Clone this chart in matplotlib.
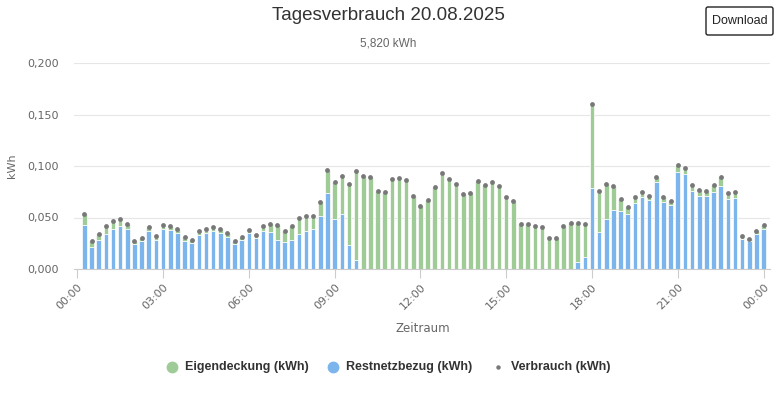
import matplotlib.pyplot as plt
from matplotlib.patches import FancyBboxPatch
import numpy as np

# Verbrauch je 15 Minuten (kWh), 00:15 ... 24:00
verbrauch = [0.053, 0.027, 0.034, 0.042, 0.047, 0.049, 0.044, 0.027, 0.030, 0.041, 0.032, 0.043,
             0.042, 0.039, 0.031, 0.028, 0.037, 0.039, 0.041, 0.039, 0.035, 0.027, 0.031, 0.038,
             0.033, 0.042, 0.044, 0.043, 0.037, 0.042, 0.050, 0.051, 0.051, 0.065, 0.096, 0.084,
             0.090, 0.083, 0.095, 0.090, 0.089, 0.076, 0.075, 0.087, 0.088, 0.086, 0.071, 0.061,
             0.067, 0.080, 0.093, 0.087, 0.083, 0.073, 0.074, 0.085, 0.082, 0.084, 0.081, 0.070,
             0.066, 0.044, 0.044, 0.042, 0.041, 0.030, 0.030, 0.042, 0.045, 0.045, 0.044, 0.160,
             0.076, 0.083, 0.081, 0.068, 0.060, 0.070, 0.075, 0.071, 0.089, 0.070, 0.066, 0.101,
             0.098, 0.082, 0.077, 0.076, 0.082, 0.089, 0.074, 0.075, 0.032, 0.029, 0.037, 0.043]

restnetz = [0.043, 0.021, 0.028, 0.034, 0.039, 0.042, 0.039, 0.024, 0.027, 0.037, 0.028, 0.039,
            0.038, 0.035, 0.027, 0.025, 0.033, 0.035, 0.037, 0.035, 0.031, 0.024, 0.028, 0.035,
            0.030, 0.037, 0.036, 0.028, 0.026, 0.028, 0.034, 0.037, 0.039, 0.051, 0.074, 0.049,
            0.053, 0.023, 0.009, 0.0, 0.0, 0.0, 0.0, 0.0, 0.0, 0.0, 0.0, 0.0,
            0.0, 0.0, 0.0, 0.0, 0.0, 0.0, 0.0, 0.0, 0.0, 0.0, 0.0, 0.0,
            0.0, 0.0, 0.0, 0.0, 0.0, 0.0, 0.0, 0.0, 0.0, 0.007, 0.012, 0.079,
            0.036, 0.049, 0.057, 0.056, 0.053, 0.064, 0.070, 0.067, 0.084, 0.065, 0.062, 0.094,
            0.092, 0.076, 0.071, 0.071, 0.075, 0.081, 0.068, 0.069, 0.029, 0.027, 0.034, 0.039]

tick_labels = ['00:00', '03:00', '06:00', '09:00', '12:00', '15:00', '18:00', '21:00', '00:00']

verbrauch = np.array(verbrauch)
restnetz = np.array(restnetz)
eigen = verbrauch - restnetz
slots = np.arange(1, len(verbrauch) + 1)

green = '#9fcb97'
blue = '#7cb5ec'
head_font = 'Liberation Sans'
leg_font = 'Liberation Sans'

W, H = 781, 397
fig = plt.figure(figsize=(W / 100, H / 100), dpi=100)
ax = fig.add_axes([74 / W, 1 - 269 / H, (770 - 74) / W, (269 - 63) / H])

ax.bar(slots, restnetz, width=0.64, color=blue, edgecolor='white', linewidth=0.5, zorder=2)
ax.bar(slots, eigen, bottom=restnetz, width=0.64, color=green, edgecolor='white', linewidth=0.5, zorder=2)
ax.scatter(slots, verbrauch, s=12, color='#787878', zorder=3, linewidths=0)

ax.set_xlim(-0.46, 96.9)
ax.set_ylim(0, 0.2)
ax.set_xticks(np.arange(0, 97, 12))
ax.set_xticklabels(tick_labels, rotation=45, ha='right', rotation_mode='anchor', fontsize=8, color='#666666')
ax.set_yticks([0, 0.05, 0.1, 0.15, 0.2])
ax.set_yticklabels([f'{v:.3f}'.replace('.', ',') for v in [0, 0.05, 0.1, 0.15, 0.2]],
                   fontsize=8, color='#666666')
ax.tick_params(axis='x', length=6.5, width=0.8, color='#cccccc', pad=3)
ax.tick_params(axis='y', length=0, pad=11)
ax.yaxis.grid(True, color='#e6e6e6', linewidth=0.8, zorder=0)
ax.set_axisbelow(True)
for s in ['top', 'right', 'left']:
    ax.spines[s].set_visible(False)
ax.spines['bottom'].set_color('#cccccc')
ax.spines['bottom'].set_linewidth(0.8)

# Overlay fuer Titel, Achsentitel und Legende
ov = fig.add_axes([0, 0, 1, 1], zorder=5)
ov.set_xlim(0, W)
ov.set_ylim(H, 0)
ov.axis('off')

ov.text(388, 16, 'Tagesverbrauch 20.08.2025', ha='center', va='center', fontsize=13.5, color='#333333', family=head_font)
ov.text(388, 43, '5,820 kWh', ha='center', va='center', fontsize=8.5, color='#666666', family=head_font)

btn = FancyBboxPatch((706, 7), 67, 28, boxstyle='round,pad=0,rounding_size=2',
                     facecolor='white', edgecolor='#222222', linewidth=1)
ov.add_patch(btn)
ov.text(739.5, 20.5, 'Download', ha='center', va='center', fontsize=9, color='#222222', family=head_font)

ov.text(12.5, 166, 'kWh', rotation=90, ha='center', va='center', fontsize=8, color='#666666')
ov.text(423, 329, 'Zeitraum', ha='center', va='center', fontsize=8.5, color='#666666')

ov.plot(172, 367, 'o', ms=8.5, color=green, mec='none')
ov.text(185, 367, 'Eigendeckung (kWh)', ha='left', va='center', fontsize=9, weight='bold', color='#333333', family=leg_font)
ov.plot(333, 367, 'o', ms=8.5, color=blue, mec='none')
ov.text(346, 367, 'Restnetzbezug (kWh)', ha='left', va='center', fontsize=9, weight='bold', color='#333333', family=leg_font)
ov.plot(498, 367, 'o', ms=3.2, color='#787878', mec='none')
ov.text(511, 367, 'Verbrauch (kWh)', ha='left', va='center', fontsize=9, weight='bold', color='#333333', family=leg_font)

fig.savefig('out.png', dpi=100)
